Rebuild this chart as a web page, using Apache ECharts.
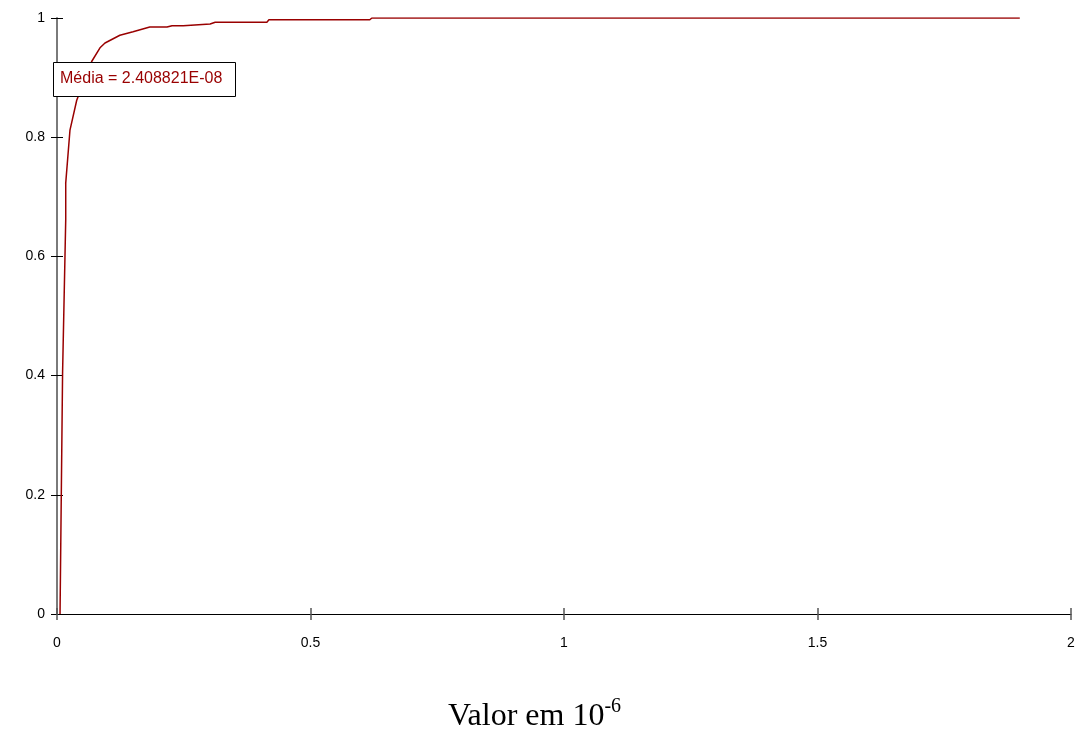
<!DOCTYPE html>
<html>
<head>
<meta charset="utf-8">
<script src="https://cdn.jsdelivr.net/npm/echarts@6/dist/echarts.min.js"></script>
<style>
  html, body { margin: 0; padding: 0; background: #fff; }
  #chart { width: 1081px; height: 736px; }
</style>
</head>
<body>
<div id="chart"></div>
<script>
// Cumulative distribution (x in units of 10^-6)
const xValues = [0.006, 0.011, 0.0172, 0.0172, 0.0256, 0.0389, 0.0684, 0.0848, 0.0947, 0.124, 0.150, 0.183, 0.217, 0.227, 0.249, 0.252, 0.302, 0.312, 0.414, 0.418, 0.617, 0.621, 1.899];
const yValues = [0.0, 0.404, 0.661, 0.723, 0.812, 0.862, 0.927, 0.950, 0.958, 0.971, 0.977, 0.985, 0.985, 0.987, 0.987, 0.990, 0.990, 0.993, 0.993, 0.997, 0.997, 1.0, 1.0];
const xTicks = [0, 0.5, 1, 1.5, 2];
const yTicks = [0, 0.2, 0.4, 0.6, 0.8, 1];
const meanLabel = 'Média = 2.408821E-08';
const axisTitle = 'Valor em 10';
const axisTitleExp = '-6';

const curve = xValues.map((x, i) => [x, yValues[i]]);
const lineColor = '#990000';

const chart = echarts.init(document.getElementById('chart'), null, { renderer: 'canvas' });

const baseX = {
  type: 'value', min: xTicks[0], max: xTicks[xTicks.length - 1], interval: 0.5,
  splitLine: { show: false }
};
const baseY = {
  type: 'value', min: yTicks[0], max: yTicks[yTicks.length - 1], interval: 0.2,
  splitLine: { show: false }
};

chart.setOption({
  animation: false,
  backgroundColor: '#ffffff',
  grid: { left: 57, right: 10, top: 18, bottom: 122, containLabel: false },
  xAxis: [
    Object.assign({}, baseX, {
      position: 'bottom',
      axisLine: { show: true, onZero: false, lineStyle: { color: '#000', width: 1.2 } },
      axisTick: { show: true, length: 6, lineStyle: { color: '#555', width: 1.5 } },
      axisLabel: {
        color: '#000', fontFamily: 'Arial, Liberation Sans', fontSize: 14, margin: 22,
        formatter: v => String(v)
      }
    }),
    // inner half of the crossing tick marks
    Object.assign({}, baseX, {
      position: 'bottom',
      axisLine: { show: false },
      axisTick: { show: true, inside: true, length: 6, lineStyle: { color: '#555', width: 1.5 } },
      axisLabel: { show: false }
    })
  ],
  yAxis: [
    Object.assign({}, baseY, {
      position: 'left',
      axisLine: { show: true, onZero: false, lineStyle: { color: '#7a7a7a', width: 2 } },
      axisTick: { show: true, length: 6, lineStyle: { color: '#000', width: 1 } },
      axisLabel: {
        color: '#000', fontFamily: 'Arial, Liberation Sans', fontSize: 14, margin: 12,
        formatter: v => String(Math.round(v * 10) / 10)
      }
    }),
    Object.assign({}, baseY, {
      position: 'left',
      axisLine: { show: false },
      axisTick: { show: true, inside: true, length: 6, lineStyle: { color: '#000', width: 1 } },
      axisLabel: { show: false }
    })
  ],
  series: [{
    type: 'line',
    data: curve,
    showSymbol: false,
    smooth: false,
    lineStyle: { color: lineColor, width: 1.5 },
    z: 3
  }],
  graphic: [
    {
      type: 'rect',
      left: 53, top: 62, z: 100,
      shape: { x: 0, y: 0, width: 182, height: 34 },
      style: { fill: '#ffffff', stroke: '#000', lineWidth: 1 }
    },
    {
      type: 'text',
      left: 60, top: 71, z: 101,
      style: {
        text: meanLabel,
        fill: lineColor,
        font: '16px Arial, "Liberation Sans"'
      }
    },
    {
      type: 'text',
      left: 448, top: 697, z: 101,
      style: {
        text: '{a|' + axisTitle + '}{b|' + axisTitleExp + '}',
        rich: {
          a: { fontFamily: '"Times New Roman", "Liberation Serif"', fontSize: 32, fill: '#000', color: '#000' },
          b: { fontFamily: '"Times New Roman", "Liberation Serif"', fontSize: 20, fill: '#000', color: '#000', padding: [0, 0, 20, 0] }
        }
      }
    }
  ]
});
</script>
</body>
</html>
